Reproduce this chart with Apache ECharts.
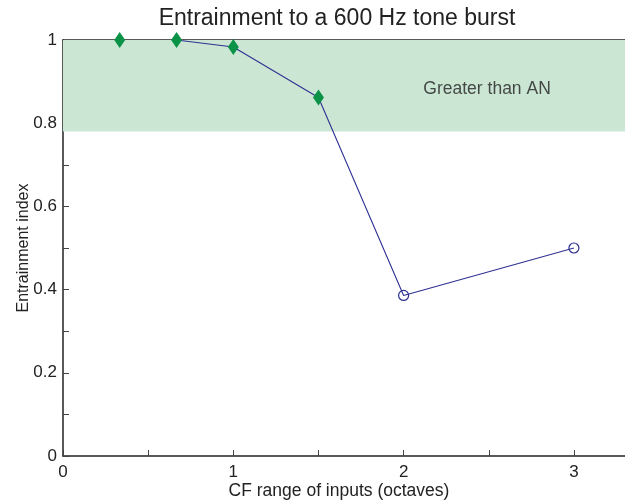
<!DOCTYPE html>
<html><head><meta charset="utf-8">
<script src="https://cdn.jsdelivr.net/npm/echarts@6/dist/echarts.min.js"></script>
<style>html,body{margin:0;padding:0;background:#fff}#c{width:625px;height:502px}</style>
</head><body><div id="c"></div>
<script>
const titleText = 'Entrainment to a 600 Hz tone burst';
const xName = 'CF range of inputs (octaves)';
const yName = 'Entrainment index';
const xs = [0.333, 0.667, 1, 1.5, 2, 3];
const ys = [1, 1, 0.983, 0.862, 0.386, 0.5];
const diamondIdx = [0, 1, 2, 3];
const circleIdx = [4, 5];
const lineIdx = [1, 2, 3, 4, 5];
const band = [0.78, 1];
const bandLabel = 'Greater than AN';
const bandLabelPos = [2.49, 0.881];

const font = 'Liberation Sans, Arial, Helvetica, sans-serif';
const pick = idx => idx.map(i => [xs[i], ys[i]]);
const chart = echarts.init(document.getElementById('c'));
const xCommon = {
  type: 'value', min: 0, max: 3.3, interval: 0.5,
  axisLine: { show: true, onZero: false, lineStyle: { color: '#222', width: 1.5 } },
  axisTick: { show: true, inside: true, length: 6, lineStyle: { color: '#444' } },
  splitLine: { show: false }
};
chart.setOption({
  animation: false,
  title: {
    text: titleText, left: 332, top: 2, textAlign: 'center',
    textStyle: { fontFamily: font, fontSize: 23, fontWeight: 'normal', color: '#222' }
  },
  grid: { left: 63, right: 0, top: 40, bottom: 46, containLabel: false, outerBoundsMode: 'none' },
  xAxis: [
    Object.assign({}, xCommon, {
      position: 'bottom',
      name: xName, nameLocation: 'middle', nameGap: 26, nameMoveOverlap: false,
      nameTextStyle: { fontFamily: font, fontSize: 17.5, color: '#222', padding: [0, 10, 0, 0] },
      axisLabel: {
        fontFamily: font, fontSize: 17, color: '#222', margin: 8, showMaxLabel: false,
        formatter: v => (Math.abs(v - Math.round(v)) < 1e-6 ? String(Math.round(v)) : '')
      }
    }),
    Object.assign({}, xCommon, { position: 'top', axisLabel: { show: false } })
  ],
  yAxis: {
    type: 'value', min: 0, max: 1, interval: 0.1,
    name: yName, nameLocation: 'middle', nameGap: 31, nameMoveOverlap: false,
    nameTextStyle: { fontFamily: font, fontSize: 16, color: '#222' },
    axisLine: { show: true, lineStyle: { color: '#222', width: 1.5 } },
    axisTick: { show: true, inside: true, length: 6, lineStyle: { color: '#444' } },
    splitLine: { show: false },
    axisLabel: {
      fontFamily: font, fontSize: 17, color: '#222', margin: 6,
      formatter: v => {
        const k = Math.round(v * 10);
        if (k % 2 !== 0) return '';
        return k === 0 ? '0' : (k === 10 ? '1' : (k / 10).toFixed(1));
      }
    }
  },
  series: [
    {
      type: 'line', data: pick(lineIdx), symbol: 'none', z: 3,
      lineStyle: { color: '#2e3192', width: 1.1 },
      markArea: {
        silent: true,
        itemStyle: { color: '#cce6d4' },
        data: [[{ yAxis: band[0] }, { yAxis: band[1] }]]
      }
    },
    {
      type: 'scatter', data: pick(diamondIdx), symbol: 'diamond', symbolSize: [11, 16], z: 4,
      itemStyle: { color: '#0a9347', opacity: 1 }
    },
    {
      type: 'scatter', data: pick(circleIdx), symbol: 'circle', symbolSize: 10, z: 4,
      itemStyle: { color: 'rgba(255,255,255,0)', borderColor: '#2e3192', borderWidth: 1.2, opacity: 1 }
    },
    {
      type: 'scatter', data: [bandLabelPos], symbolSize: 0, silent: true,
      label: { show: true, position: 'inside', formatter: bandLabel,
        fontFamily: font, fontSize: 17.5, color: '#222' }
    }
  ]
});
</script></body></html>
